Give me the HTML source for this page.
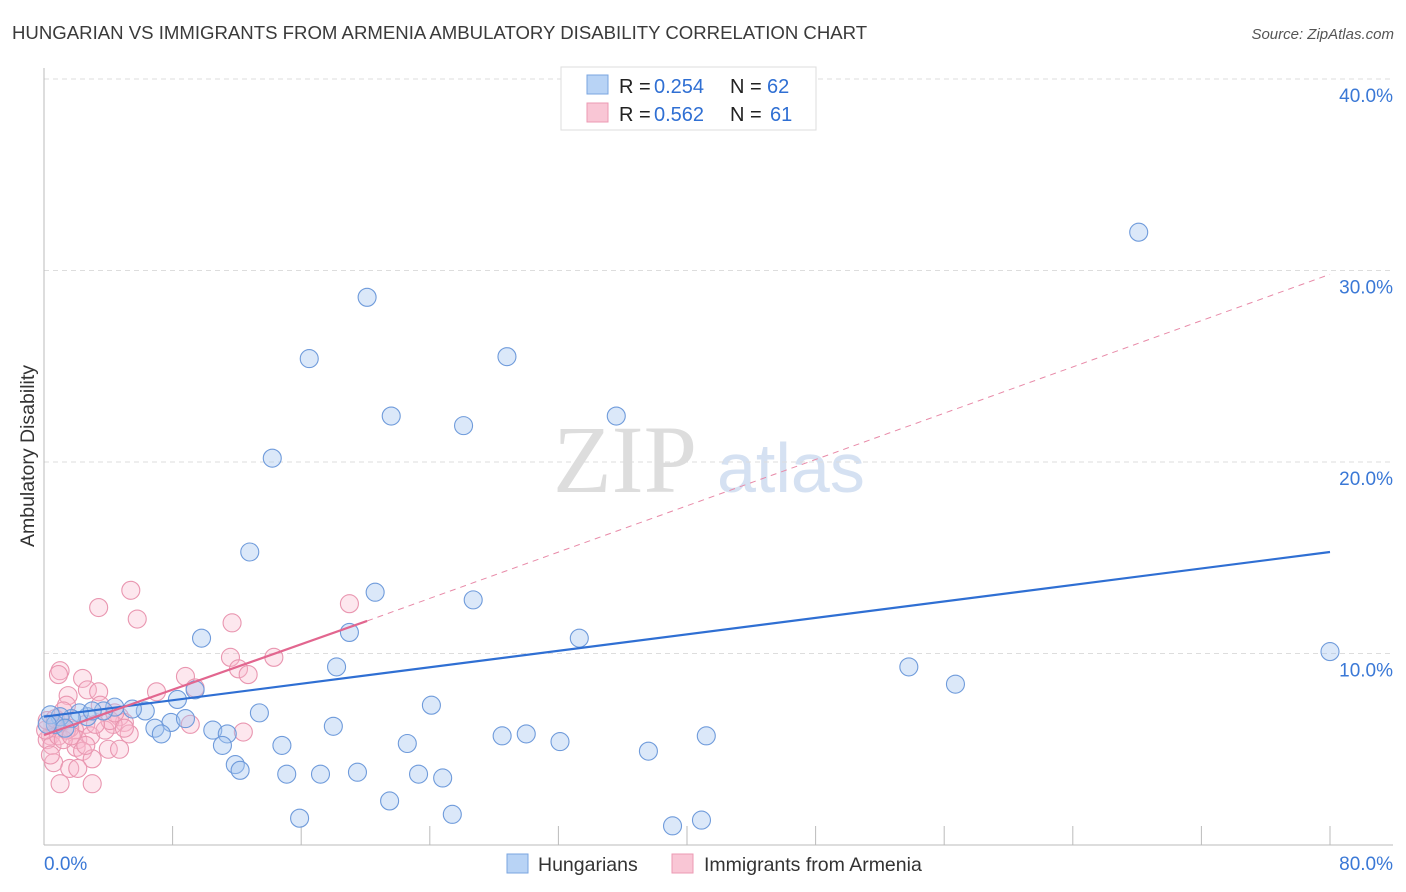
<!DOCTYPE html>
<html><head><meta charset="utf-8"><style>
body{margin:0;background:#fff;font-family:"Liberation Sans",sans-serif}
</style></head><body>
<svg id="c" width="1406" height="892" style="display:block">
<text x="12" y="39" font-size="18.6" fill="#3a3a3a">HUNGARIAN VS IMMIGRANTS FROM ARMENIA AMBULATORY DISABILITY CORRELATION CHART</text>
<text x="1394" y="39" font-size="15" fill="#555" font-style="italic" text-anchor="end">Source: ZipAtlas.com</text>
<text x="34" y="456" font-size="19.5" fill="#333" text-anchor="middle" transform="rotate(-90 34 456)">Ambulatory Disability</text>
<g><text x="553" y="492" font-size="96" font-family="Liberation Serif,serif" fill="#ddd">ZIP</text><text x="717" y="492" font-size="70" fill="#d5e1f2">atlas</text></g>
<g id="grid"></g><g id="axes"></g><g id="pts"></g><g id="lines"></g>
<g>
<rect x="561" y="67" width="255" height="63" fill="#fff" stroke="#ddd"/>
<rect x="587" y="75" width="21" height="19" fill="#b8d3f5" stroke="#7aa6e0"/>
<rect x="587" y="103" width="21" height="19" fill="#f9c6d5" stroke="#ec9ab3"/>
<text x="619" y="93" font-size="20" fill="#222">R =</text><text x="654" y="93" font-size="20" fill="#2f6fd3">0.254</text>
<text x="730" y="93" font-size="20" fill="#222">N =</text><text x="767" y="93" font-size="20" fill="#2f6fd3">62</text>
<text x="619" y="121" font-size="20" fill="#222">R =</text><text x="654" y="121" font-size="20" fill="#2f6fd3">0.562</text>
<text x="730" y="121" font-size="20" fill="#222">N =</text><text x="770" y="121" font-size="20" fill="#2f6fd3">61</text>
</g>
<g>
<rect x="507" y="854" width="21" height="19" fill="#b8d3f5" stroke="#7aa6e0"/>
<text x="538" y="871" font-size="19.5" fill="#333">Hungarians</text>
<rect x="672" y="854" width="21" height="19" fill="#f9c6d5" stroke="#ec9ab3"/>
<text x="704" y="871" font-size="19.5" fill="#333">Immigrants from Armenia</text>
</g>
</svg>
<script>
const xTicks=[0,8,16,24,32,40,48,56,64,72,80];
const yTicks=[10,20,30,40];
const yTickLabels=["10.0%","20.0%","30.0%","40.0%"];
const blueX=[68.1,20.1,16.5,28.8,21.6,26.1,35.6,14.2,12.8,20.6,26.7,19.0,9.8,33.3,80.0,53.8,56.7,18.2,8.3,9.4,13.4,24.1,18.0,28.5,30.0,32.1,22.6,14.8,10.5,11.4,11.1,7.9,8.8,6.9,7.3,11.9,12.2,15.1,17.2,19.5,23.3,24.8,37.6,41.2,21.5,15.9,25.4,39.1,40.9,6.3,5.5,4.4,3.7,2.7,2.2,1.7,1.0,0.4,0.7,0.2,1.3,3.0];
const blueY=[32.0,28.6,25.4,25.5,22.4,21.9,22.4,20.2,15.3,13.2,12.8,11.1,10.8,10.8,10.1,9.3,8.4,9.3,7.6,8.1,6.9,7.3,6.2,5.7,5.8,5.4,5.3,5.2,6.0,5.8,5.2,6.4,6.6,6.1,5.8,4.2,3.9,3.7,3.7,3.8,3.7,3.5,4.9,5.7,2.3,1.4,1.6,1.0,1.3,7.0,7.1,7.2,7.0,6.7,6.9,6.6,6.7,6.8,6.3,6.3,6.1,7.0];
const pinkX=[5.4,3.4,5.8,19.0,11.7,11.6,12.1,12.7,14.3,8.8,7.0,9.4,1.0,0.9,2.4,1.5,2.7,3.4,1.4,3.5,9.1,12.4,4.7,5.0,4.3,5.3,2.6,1.9,1.1,0.7,0.4,0.2,0.5,2.1,2.9,0.9,1.6,0.1,2.0,2.4,4.0,4.7,0.6,3.0,1.6,2.1,1.0,3.0,0.2,1.2,0.7,1.4,3.8,4.1,1.7,3.2,0.4,2.6,1.2,4.4,5.0];
const pinkY=[13.3,12.4,11.8,12.6,11.6,9.8,9.2,8.9,9.8,8.8,8.0,8.2,9.1,8.9,8.7,7.8,8.1,8.0,7.3,7.3,6.3,5.9,6.7,6.4,6.3,5.8,6.3,6.0,6.4,6.1,5.7,5.5,5.2,5.5,5.7,5.7,6.1,6.0,5.1,4.9,5.0,5.0,4.3,4.5,4.0,4.0,3.2,3.2,6.5,5.5,6.6,6.0,6.0,6.5,5.7,6.3,4.7,5.2,7.0,6.9,6.1];
const blueFit=[[0,6.7],[80,15.3]];
const pinkFit=[[0,5.74],[20.1,11.7]];
const pinkDash=[[20.1,11.7],[80,29.8]];
const NS="http://www.w3.org/2000/svg";
const X=v=>44+v*16.075, Y=v=>845-v*19.15;
function mk(t,a,p){const e=document.createElementNS(NS,t);for(const k in a)e.setAttribute(k,a[k]);p.appendChild(e);return e;}
const grid=document.getElementById('grid'),axes=document.getElementById('axes'),pts=document.getElementById('pts'),lines=document.getElementById('lines');
yTicks.forEach((t,i)=>{
 const l=mk('line',{x1:44,x2:1393,y1:Y(t),y2:Y(t),stroke:'#ddd','stroke-dasharray':'5,4'},grid);
 
 
 const tx=mk('text',{x:1393,y:Y(t)+23,'font-size':19,fill:'#3a78d6','text-anchor':'end'},axes);
 tx.textContent=yTickLabels[i];
 
 
});
const al=mk('line',{x1:44,x2:44,y1:68,y2:845,stroke:'#bbb'},axes);


const bl=mk('line',{x1:44,x2:1393,y1:845,y2:845,stroke:'#bbb'},axes);


xTicks.forEach(t=>{
 const l=mk('line',{x1:X(t),x2:X(t),y1:826,y2:845,stroke:'#bbb'},axes);
 
 
});
const x0=mk('text',{x:44,y:870,'font-size':19,fill:'#3a78d6'},axes);x0.textContent='0.0%';


const x1=mk('text',{x:1393,y:870,'font-size':19,fill:'#3a78d6','text-anchor':'end'},axes);x1.textContent='80.0%';


pinkX.forEach((v,i)=>{
 const c=mk('circle',{cx:X(v),cy:Y(pinkY[i]),r:9,fill:'rgba(248,185,205,0.35)',stroke:'#e996b0','stroke-width':1.1},pts);
 
 
});
blueX.forEach((v,i)=>{
 const c=mk('circle',{cx:X(v),cy:Y(blueY[i]),r:9,fill:'rgba(165,198,240,0.4)',stroke:'#6f9bdb','stroke-width':1.1},pts);
 
 
});
const d=mk('line',{x1:X(pinkDash[0][0]),y1:Y(pinkDash[0][1]),x2:X(pinkDash[1][0]),y2:Y(pinkDash[1][1]),stroke:'#e88aa8','stroke-width':1,'stroke-dasharray':'6,5'},lines);


const b=mk('line',{x1:X(blueFit[0][0]),y1:Y(blueFit[0][1]),x2:X(blueFit[1][0]),y2:Y(blueFit[1][1]),stroke:'#2f6fd3','stroke-width':2.2},lines);


const p=mk('line',{x1:X(pinkFit[0][0]),y1:Y(pinkFit[0][1]),x2:X(pinkFit[1][0]),y2:Y(pinkFit[1][1]),stroke:'#e2668f','stroke-width':2.2},lines);


</script>
</body></html>
